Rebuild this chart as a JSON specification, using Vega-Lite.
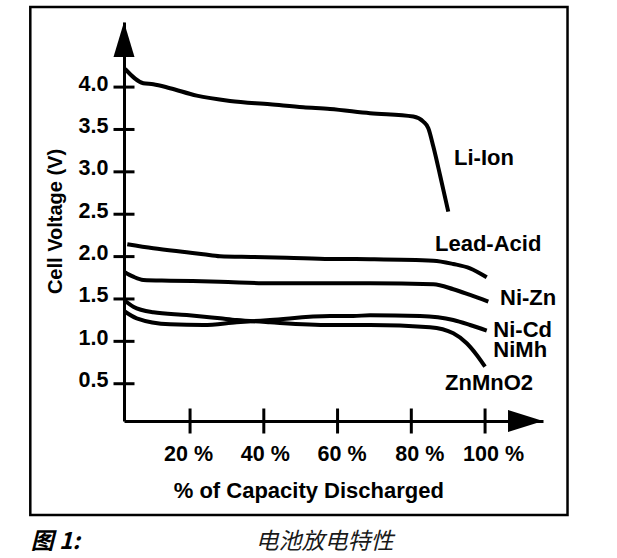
{
  "$schema": "https://vega.github.io/schema/vega-lite/v6.json",
  "width": 419,
  "height": 399,
  "autosize": {"type": "none"},
  "padding": {"left": 124, "top": 22, "right": 74, "bottom": 137},
  "background": "white",
  "config": {"view": {"stroke": null}},
  "resolve": {"axis": {"x": "independent", "y": "independent"}},
  "datasets": {
    "curves": [
      {"series": "Li-Ion", "pct": 2.36, "v": 4.215},
      {"series": "Li-Ion", "pct": 7.32, "v": 4.046},
      {"series": "Li-Ion", "pct": 10.03, "v": 4.034},
      {"series": "Li-Ion", "pct": 14.56, "v": 3.987},
      {"series": "Li-Ion", "pct": 21.8, "v": 3.899},
      {"series": "Li-Ion", "pct": 30.84, "v": 3.837},
      {"series": "Li-Ion", "pct": 41.68, "v": 3.798},
      {"series": "Li-Ion", "pct": 50.71, "v": 3.763},
      {"series": "Li-Ion", "pct": 57.95, "v": 3.742},
      {"series": "Li-Ion", "pct": 68.8, "v": 3.692},
      {"series": "Li-Ion", "pct": 80.54, "v": 3.652},
      {"series": "Li-Ion", "pct": 83.25, "v": 3.593},
      {"series": "Li-Ion", "pct": 84.61, "v": 3.515},
      {"series": "Li-Ion", "pct": 85.97, "v": 3.298},
      {"series": "Li-Ion", "pct": 87.78, "v": 2.963},
      {"series": "Li-Ion", "pct": 90.03, "v": 2.53},
      {"series": "Lead-Acid", "pct": 2.98, "v": 2.146},
      {"series": "Lead-Acid", "pct": 10.03, "v": 2.098},
      {"series": "Lead-Acid", "pct": 19.09, "v": 2.051},
      {"series": "Lead-Acid", "pct": 23.59, "v": 2.028},
      {"series": "Lead-Acid", "pct": 28.12, "v": 2.004},
      {"series": "Lead-Acid", "pct": 37.15, "v": 1.996},
      {"series": "Lead-Acid", "pct": 46.21, "v": 1.987},
      {"series": "Lead-Acid", "pct": 57.95, "v": 1.972},
      {"series": "Lead-Acid", "pct": 68.8, "v": 1.969},
      {"series": "Lead-Acid", "pct": 85.97, "v": 1.952},
      {"series": "Lead-Acid", "pct": 91.39, "v": 1.913},
      {"series": "Lead-Acid", "pct": 95.93, "v": 1.862},
      {"series": "Lead-Acid", "pct": 100.45, "v": 1.756},
      {"series": "Ni-Zn", "pct": 2.09, "v": 1.822},
      {"series": "Ni-Zn", "pct": 4.61, "v": 1.763},
      {"series": "Ni-Zn", "pct": 7.32, "v": 1.724},
      {"series": "Ni-Zn", "pct": 14.56, "v": 1.716},
      {"series": "Ni-Zn", "pct": 28.12, "v": 1.704},
      {"series": "Ni-Zn", "pct": 41.68, "v": 1.685},
      {"series": "Ni-Zn", "pct": 55.24, "v": 1.685},
      {"series": "Ni-Zn", "pct": 68.8, "v": 1.685},
      {"series": "Ni-Zn", "pct": 85.97, "v": 1.674},
      {"series": "Ni-Zn", "pct": 91.39, "v": 1.615},
      {"series": "Ni-Zn", "pct": 95.93, "v": 1.547},
      {"series": "Ni-Zn", "pct": 100.88, "v": 1.468},
      {"series": "Ni-Cd/NiMh", "pct": 2.09, "v": 1.358},
      {"series": "Ni-Cd/NiMh", "pct": 5.53, "v": 1.272},
      {"series": "Ni-Cd/NiMh", "pct": 14.56, "v": 1.201},
      {"series": "Ni-Cd/NiMh", "pct": 23.59, "v": 1.193},
      {"series": "Ni-Cd/NiMh", "pct": 32.65, "v": 1.225},
      {"series": "Ni-Cd/NiMh", "pct": 41.68, "v": 1.252},
      {"series": "Ni-Cd/NiMh", "pct": 57.95, "v": 1.299},
      {"series": "Ni-Cd/NiMh", "pct": 64.27, "v": 1.299},
      {"series": "Ni-Cd/NiMh", "pct": 68.8, "v": 1.308},
      {"series": "Ni-Cd/NiMh", "pct": 82.36, "v": 1.299},
      {"series": "Ni-Cd/NiMh", "pct": 91.39, "v": 1.252},
      {"series": "Ni-Cd/NiMh", "pct": 95.93, "v": 1.193},
      {"series": "Ni-Cd/NiMh", "pct": 100.45, "v": 1.126},
      {"series": "ZnMnO2", "pct": 2.09, "v": 1.488},
      {"series": "ZnMnO2", "pct": 4.61, "v": 1.409},
      {"series": "ZnMnO2", "pct": 10.03, "v": 1.343},
      {"series": "ZnMnO2", "pct": 19.09, "v": 1.311},
      {"series": "ZnMnO2", "pct": 28.12, "v": 1.272},
      {"series": "ZnMnO2", "pct": 32.65, "v": 1.252},
      {"series": "ZnMnO2", "pct": 41.68, "v": 1.225},
      {"series": "ZnMnO2", "pct": 57.95, "v": 1.193},
      {"series": "ZnMnO2", "pct": 68.8, "v": 1.193},
      {"series": "ZnMnO2", "pct": 85.06, "v": 1.166},
      {"series": "ZnMnO2", "pct": 91.39, "v": 1.095},
      {"series": "ZnMnO2", "pct": 95.02, "v": 0.977},
      {"series": "ZnMnO2", "pct": 97.74, "v": 0.839},
      {"series": "ZnMnO2", "pct": 99.99, "v": 0.701}
    ],
    "labels": [
      {"name": "Li-Ion", "pct": 91.58, "v": 3.081},
      {"name": "Lead-Acid", "pct": 86.43, "v": 2.061},
      {"name": "Ni-Zn", "pct": 104.05, "v": 1.429},
      {"name": "Ni-Cd", "pct": 102.24, "v": 1.048},
      {"name": "NiMh", "pct": 102.24, "v": 0.812},
      {"name": "ZnMnO2", "pct": 89.14, "v": 0.426}
    ]
  },
  "layer": [
    {
      "data": {"name": "curves"},
      "mark": {"type": "line", "color": "black", "strokeWidth": 4, "interpolate": "monotone"},
      "encoding": {
        "x": {
          "field": "pct", "type": "quantitative",
          "scale": {"domain": [2.088, 115.71], "nice": false, "zero": false},
          "axis": {
            "values": [20, 40, 60, 80, 100],
            "labelExpr": "datum.value + ' %'",
            "title": "% of Capacity Discharged",
            "grid": false, "ticks": false, "tickSize": 0,
            "domain": true, "domainColor": "black", "domainWidth": 3,
            "labelFont": "Liberation Sans", "labelFontWeight": "bold", "labelFontSize": 21.5, "labelColor": "black",
            "labelBaseline": "alphabetic", "labelPadding": 39,
            "labelOffset": {"expr": "datum.value == 20 ? -2 : datum.value == 40 ? 1 : datum.value == 60 ? 4 : 8"},
            "labelFlush": false, "labelOverlap": false,
            "titleFont": "Liberation Sans", "titleFontWeight": "bold", "titleFontSize": 22, "titleColor": "black",
            "titleX": 184.3, "titleY": 76, "titleBaseline": "alphabetic", "titleAlign": "center"
          }
        },
        "y": {
          "field": "v", "type": "quantitative",
          "scale": {"domain": [0.0602, 4.768], "nice": false, "zero": false},
          "axis": {
            "values": [0.5, 1, 1.5, 2, 2.5, 3, 3.5, 4],
            "format": ".1f",
            "title": "Cell Voltage (V)",
            "grid": false, "ticks": false, "tickSize": 0,
            "domain": true, "domainColor": "black", "domainWidth": 3,
            "labelFont": "Liberation Sans", "labelFontWeight": "bold", "labelFontSize": 21.5, "labelColor": "black",
            "labelBaseline": "alphabetic", "labelOffset": 3, "labelPadding": 16,
            "labelFlush": false, "labelOverlap": false,
            "titleFont": "Liberation Sans", "titleFontWeight": "bold", "titleFontSize": 20, "titleColor": "black",
            "titleAngle": -90, "titleX": -62.5, "titleY": 199, "titleBaseline": "alphabetic", "titleAlign": "center"
          }
        },
        "detail": {"field": "series"}
      }
    },
    {
      "data": {"values": [{}]},
      "mark": {"type": "rect", "fill": "transparent", "stroke": "black", "strokeWidth": 2.5},
      "encoding": {
        "x": {"datum": -23.32, "type": "quantitative", "scale": {"domain": [2.088, 115.71], "nice": false, "zero": false}, "axis": null},
        "x2": {"datum": 122.36},
        "y": {"datum": 4.946, "type": "quantitative", "scale": {"domain": [0.0602, 4.768], "nice": false, "zero": false}, "axis": null},
        "y2": {"datum": -1.049}
      }
    },
    {
      "data": {"values": [{"t": 20}, {"t": 40}, {"t": 60}, {"t": 80}, {"t": 100}]},
      "mark": {"type": "tick", "orient": "vertical", "color": "black", "opacity": 1, "size": 25, "thickness": 3},
      "encoding": {
        "x": {"field": "t", "type": "quantitative", "scale": {"domain": [2.088, 115.71], "nice": false, "zero": false}, "axis": null},
        "y": {"datum": 0.0602, "type": "quantitative", "scale": {"domain": [0.0602, 4.768], "nice": false, "zero": false}, "axis": null}
      }
    },
    {
      "data": {"values": [{"t": 0.5}, {"t": 1}, {"t": 1.5}, {"t": 2}, {"t": 2.5}, {"t": 3}, {"t": 3.5}, {"t": 4}]},
      "mark": {"type": "tick", "orient": "horizontal", "color": "black", "opacity": 1, "size": 21, "thickness": 3},
      "encoding": {
        "x": {"datum": 2.088, "type": "quantitative", "scale": {"domain": [2.088, 115.71], "nice": false, "zero": false}, "axis": null},
        "y": {"field": "t", "type": "quantitative", "scale": {"domain": [0.0602, 4.768], "nice": false, "zero": false}, "axis": null}
      }
    },
    {
      "data": {"values": [{}]},
      "mark": {"type": "point", "shape": "M0,-1L0.6,1L-0.6,1Z", "size": 1225, "filled": true, "color": "black", "opacity": 1, "strokeWidth": 0},
      "encoding": {
        "x": {"datum": 2.088, "type": "quantitative", "scale": {"domain": [2.088, 115.71], "nice": false, "zero": false}, "axis": null},
        "y": {"datum": 4.5627, "type": "quantitative", "scale": {"domain": [0.0602, 4.768], "nice": false, "zero": false}, "axis": null}
      }
    },
    {
      "data": {"values": [{}]},
      "mark": {"type": "point", "shape": "M1,0L-1,-0.63L-1,0.63Z", "size": 1225, "filled": true, "color": "black", "opacity": 1, "strokeWidth": 0},
      "encoding": {
        "x": {"datum": 110.97, "type": "quantitative", "scale": {"domain": [2.088, 115.71], "nice": false, "zero": false}, "axis": null},
        "y": {"datum": 0.0602, "type": "quantitative", "scale": {"domain": [0.0602, 4.768], "nice": false, "zero": false}, "axis": null}
      }
    },
    {
      "data": {"name": "labels"},
      "mark": {"type": "text", "align": "left", "baseline": "alphabetic", "font": "Liberation Sans", "fontWeight": "bold", "fontSize": 22, "color": "black"},
      "encoding": {
        "x": {"field": "pct", "type": "quantitative", "scale": {"domain": [2.088, 115.71], "nice": false, "zero": false}, "axis": null},
        "y": {"field": "v", "type": "quantitative", "scale": {"domain": [0.0602, 4.768], "nice": false, "zero": false}, "axis": null},
        "text": {"field": "name"}
      }
    },
    {
      "data": {"values": [{"c": "图 1:"}]},
      "mark": {"type": "text", "align": "left", "baseline": "middle", "font": "Noto Sans CJK SC", "fontWeight": "bold", "fontStyle": "italic", "fontSize": 23, "color": "black"},
      "encoding": {
        "x": {"datum": -23.2, "type": "quantitative", "scale": {"domain": [2.088, 115.71], "nice": false, "zero": false}, "axis": null},
        "y": {"datum": -1.368, "type": "quantitative", "scale": {"domain": [0.0602, 4.768], "nice": false, "zero": false}, "axis": null},
        "text": {"field": "c"}
      }
    },
    {
      "data": {"values": [{"c": "电池放电特性"}]},
      "mark": {"type": "text", "align": "left", "baseline": "middle", "font": "Noto Sans CJK SC", "fontStyle": "italic", "fontSize": 23, "color": "#1a1a1a"},
      "encoding": {
        "x": {"datum": 37.75, "type": "quantitative", "scale": {"domain": [2.088, 115.71], "nice": false, "zero": false}, "axis": null},
        "y": {"datum": -1.368, "type": "quantitative", "scale": {"domain": [0.0602, 4.768], "nice": false, "zero": false}, "axis": null},
        "text": {"field": "c"}
      }
    }
  ]
}
